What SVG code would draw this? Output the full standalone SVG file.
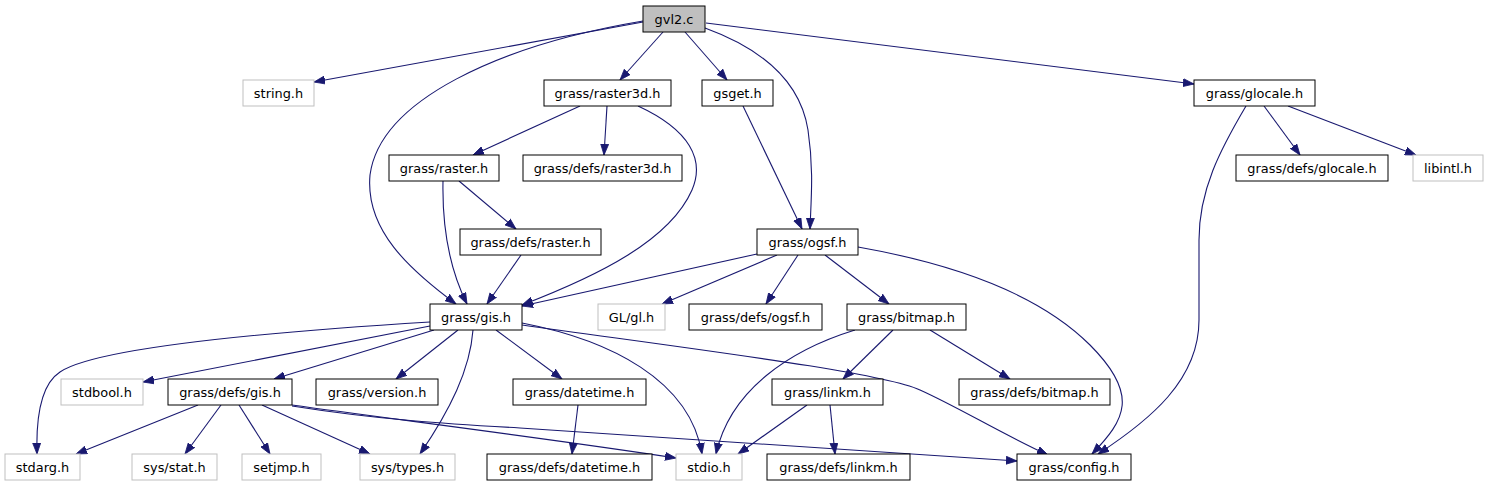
<svg xmlns="http://www.w3.org/2000/svg" width="1489" height="485" viewBox="0 0 1489 485">
<style>
.n rect{fill:#fff;stroke:#000;stroke-width:1}
.n.ext rect{stroke:#bfbfbf}
.n.root rect{fill:#bfbfbf}
.n text{font-family:"DejaVu Sans",sans-serif;font-size:12.9px;fill:#000;text-anchor:middle}
#edges path{fill:none;stroke:#191970;stroke-width:1.1;marker-end:url(#ah)}
</style>
<defs>
<marker id="ah" markerUnits="userSpaceOnUse" markerWidth="12" markerHeight="9" refX="11" refY="4.5" orient="auto">
<path d="M0,0.5 L11,4.5 L0,8.5 z" fill="#191970" stroke="#191970" stroke-width="0.8"/>
</marker>
</defs>
<rect width="1489" height="485" fill="#fff"/>
<g id="edges">
<path d="M643,22 L314,82"/>
<path d="M643,21 C500,45 380,100 370,175 C365,230 410,270 456,304"/>
<path d="M663,32 L620,80"/>
<path d="M685,32 L727,80"/>
<path d="M705,28 C760,48 800,80 808,130 C814,170 811,200 810,229"/>
<path d="M706,23 L1194,84"/>
<path d="M580,106 L473,155"/>
<path d="M607,106 L604,155"/>
<path d="M638,106 C690,130 705,160 692,190 C670,240 600,275 522,305"/>
<path d="M743,106 L802,229"/>
<path d="M1246,106 C1220,150 1199,190 1199,240 L1199,320 C1199,380 1150,420 1098,454"/>
<path d="M1264,106 L1300,155"/>
<path d="M1288,106 L1416,155"/>
<path d="M443,181 C442,230 450,270 467,304"/>
<path d="M459,181 L516,229"/>
<path d="M521,255 L487,304"/>
<path d="M757,254 L522,306"/>
<path d="M777,255 L662,304"/>
<path d="M798,255 L766,304"/>
<path d="M825,255 L889,304"/>
<path d="M858,247 C960,265 1040,295 1090,345 C1140,395 1125,420 1092,454"/>
<path d="M430,322 C300,330 100,345 60,372 C40,385 36,420 37,454"/>
<path d="M430,326 L143,382"/>
<path d="M434,330 L274,379"/>
<path d="M458,330 L396,379"/>
<path d="M473,330 C470,370 450,410 420,454"/>
<path d="M496,330 L562,379"/>
<path d="M522,323 C610,340 690,380 702,454"/>
<path d="M522,325 C700,350 880,372 920,390 C960,408 1000,433 1048,455"/>
<path d="M198,405 L76,454"/>
<path d="M221,405 L185,454"/>
<path d="M239,405 L270,454"/>
<path d="M262,405 L370,454"/>
<path d="M292,405 C400,420 560,440 676,458"/>
<path d="M292,406 C380,420 450,424 520,428 L1017,461"/>
<path d="M578,405 L572,454"/>
<path d="M855,330 C790,350 730,390 716,454"/>
<path d="M893,330 L843,379"/>
<path d="M930,330 L1010,379"/>
<path d="M807,405 L738,454"/>
<path d="M830,405 L835,454"/>
</g>
<g id="n_gvl2c" class="n root"><rect x="643" y="6" width="62" height="26"/><text x="674" y="24">gvl2.c</text></g>
<g id="n_string" class="n ext"><rect x="243" y="80" width="71" height="26"/><text x="278.5" y="98">string.h</text></g>
<g id="n_raster3d" class="n"><rect x="544" y="80" width="127" height="26"/><text x="607.5" y="98">grass/raster3d.h</text></g>
<g id="n_gsget" class="n"><rect x="702" y="80" width="71" height="26"/><text x="737.5" y="98">gsget.h</text></g>
<g id="n_glocale" class="n"><rect x="1194" y="80" width="121" height="26"/><text x="1254.5" y="98">grass/glocale.h</text></g>
<g id="n_raster" class="n"><rect x="389" y="155" width="110" height="26"/><text x="444" y="173">grass/raster.h</text></g>
<g id="n_defs_raster3d" class="n"><rect x="523" y="155" width="159" height="26"/><text x="602.5" y="173">grass/defs/raster3d.h</text></g>
<g id="n_defs_glocale" class="n"><rect x="1236" y="155" width="152" height="26"/><text x="1312" y="173">grass/defs/glocale.h</text></g>
<g id="n_libintl" class="n ext"><rect x="1413" y="155" width="70" height="26"/><text x="1448" y="173">libintl.h</text></g>
<g id="n_defs_raster" class="n"><rect x="460" y="229" width="141" height="26"/><text x="530.5" y="247">grass/defs/raster.h</text></g>
<g id="n_ogsf" class="n"><rect x="757" y="229" width="101" height="26"/><text x="807.5" y="247">grass/ogsf.h</text></g>
<g id="n_gis" class="n"><rect x="430" y="304" width="92" height="26"/><text x="476" y="322">grass/gis.h</text></g>
<g id="n_glgl" class="n ext"><rect x="598" y="304" width="67" height="26"/><text x="631.5" y="322">GL/gl.h</text></g>
<g id="n_defs_ogsf" class="n"><rect x="689" y="304" width="133" height="26"/><text x="755.5" y="322">grass/defs/ogsf.h</text></g>
<g id="n_bitmap" class="n"><rect x="847" y="304" width="119" height="26"/><text x="906.5" y="322">grass/bitmap.h</text></g>
<g id="n_stdbool" class="n ext"><rect x="61" y="379" width="82" height="26"/><text x="102" y="397">stdbool.h</text></g>
<g id="n_defs_gis" class="n"><rect x="168" y="379" width="124" height="26"/><text x="230" y="397">grass/defs/gis.h</text></g>
<g id="n_version" class="n"><rect x="316" y="379" width="122" height="26"/><text x="377" y="397">grass/version.h</text></g>
<g id="n_datetime" class="n"><rect x="513" y="379" width="133" height="26"/><text x="579.5" y="397">grass/datetime.h</text></g>
<g id="n_linkm" class="n"><rect x="772" y="379" width="111" height="26"/><text x="827.5" y="397">grass/linkm.h</text></g>
<g id="n_defs_bitmap" class="n"><rect x="959" y="379" width="151" height="26"/><text x="1034.5" y="397">grass/defs/bitmap.h</text></g>
<g id="n_stdarg" class="n ext"><rect x="5" y="454" width="75" height="26"/><text x="42.5" y="472">stdarg.h</text></g>
<g id="n_sysstat" class="n ext"><rect x="132" y="454" width="85" height="26"/><text x="174.5" y="472">sys/stat.h</text></g>
<g id="n_setjmp" class="n ext"><rect x="242" y="454" width="79" height="26"/><text x="281.5" y="472">setjmp.h</text></g>
<g id="n_systypes" class="n ext"><rect x="360" y="454" width="95" height="26"/><text x="407.5" y="472">sys/types.h</text></g>
<g id="n_defs_datetime" class="n"><rect x="487" y="454" width="165" height="26"/><text x="569.5" y="472">grass/defs/datetime.h</text></g>
<g id="n_stdio" class="n ext"><rect x="676" y="454" width="66" height="26"/><text x="709" y="472">stdio.h</text></g>
<g id="n_defs_linkm" class="n"><rect x="767" y="454" width="143" height="26"/><text x="838.5" y="472">grass/defs/linkm.h</text></g>
<g id="n_config" class="n"><rect x="1017" y="454" width="114" height="26"/><text x="1074" y="472">grass/config.h</text></g>
</svg>
